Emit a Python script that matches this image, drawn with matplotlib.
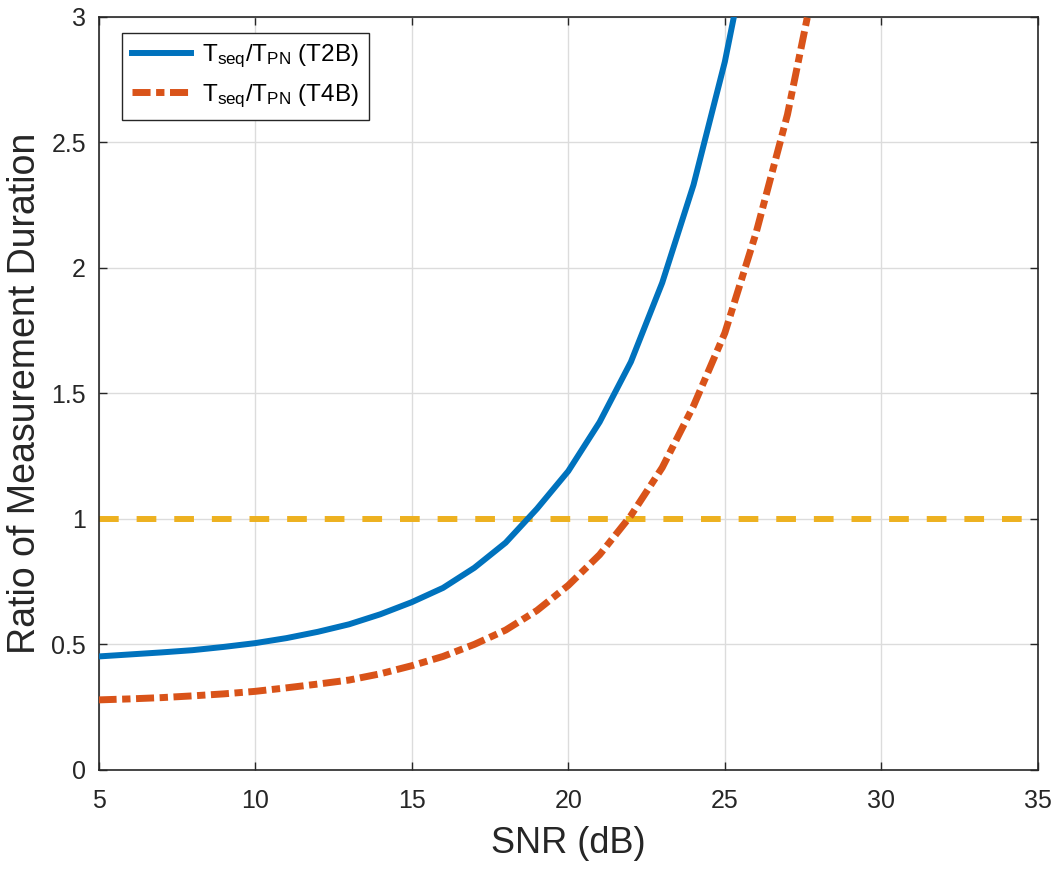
import matplotlib
matplotlib.use("Agg")
import matplotlib.pyplot as plt

plt.rcParams['font.family'] = ['Liberation Sans', 'DejaVu Sans']
plt.rcParams['mathtext.fontset'] = 'custom'
plt.rcParams['mathtext.rm'] = 'Liberation Sans'
plt.rcParams['mathtext.it'] = 'Liberation Sans'

# SNR (dB) and duration ratios
snr_t2b = [5, 6, 7, 8, 9, 10, 11, 12, 13, 14, 15, 16, 17, 18, 19, 20, 21, 22, 23, 24, 25, 26]
ratio_t2b = [0.452, 0.46, 0.468, 0.477, 0.49, 0.505, 0.525, 0.55, 0.58, 0.62, 0.668, 0.725,
             0.805, 0.905, 1.04, 1.19, 1.385, 1.625, 1.94, 2.33, 2.82, 3.44]
snr_t4b = [5, 6, 7, 8, 9, 10, 11, 12, 13, 14, 15, 16, 17, 18, 19, 20, 21, 22, 23, 24, 25, 26, 27, 28]
ratio_t4b = [0.279, 0.283, 0.288, 0.295, 0.303, 0.313, 0.327, 0.342, 0.358, 0.383, 0.415, 0.452,
             0.5, 0.557, 0.635, 0.735, 0.857, 1.013, 1.204, 1.45, 1.74, 2.14, 2.61, 3.22]
ref_level = 1.0

xticks = [5, 10, 15, 20, 25, 30, 35]
yticks = [0, 0.5, 1, 1.5, 2, 2.5, 3]
ytick_labels = ['0', '0.5', '1', '1.5', '2', '2.5', '3']

fig = plt.figure(figsize=(10.62, 8.71), dpi=100)
ax = fig.add_axes([0.0928, 0.116, 0.8846, 0.865])

ax.plot(snr_t2b, ratio_t2b, color='#0072BD', lw=4.3,
        label=r'T$_{\mathrm{seq}}$/T$_{\mathrm{PN}}$ (T2B)', zorder=3)
ax.plot(snr_t4b, ratio_t4b, color='#D95319', lw=5.0, dashes=(2.6, 0.8, 1.2, 0.8),
        label=r'T$_{\mathrm{seq}}$/T$_{\mathrm{PN}}$ (T4B)', zorder=3)
ax.axhline(ref_level, color='#EDB120', lw=4.3, dashes=(3.3, 3.0), zorder=2)

ax.set_xlim(5, 35)
ax.set_ylim(0, 3)
ax.set_xticks(xticks)
ax.set_yticks(yticks)
ax.set_yticklabels(ytick_labels)
ax.grid(True, color='#dcdcdc', lw=1.0)
ax.set_axisbelow(True)
ax.tick_params(direction='in', top=True, right=True, labelsize=18, colors='#262626',
               length=6, width=1.0)
ax.tick_params(axis='x', pad=14)
ax.tick_params(axis='y', pad=9)
for s in ax.spines.values():
    s.set_color('#262626')
    s.set_linewidth(1.2)

ax.set_xlabel('SNR (dB)', fontsize=26, color='#262626', labelpad=9)
ax.set_ylabel('Ratio of Measurement Duration', fontsize=27, color='#262626', labelpad=6)

leg = ax.legend(loc='upper left', bbox_to_anchor=(0.025, 0.978), borderaxespad=0,
                fontsize=17.5, frameon=True, fancybox=False, edgecolor='#262626',
                framealpha=1, handlelength=2.45, borderpad=0.4, labelspacing=0.5,
                handletextpad=0.45)
leg.get_frame().set_linewidth(1.0)

fig.savefig('out.png', dpi=100)
